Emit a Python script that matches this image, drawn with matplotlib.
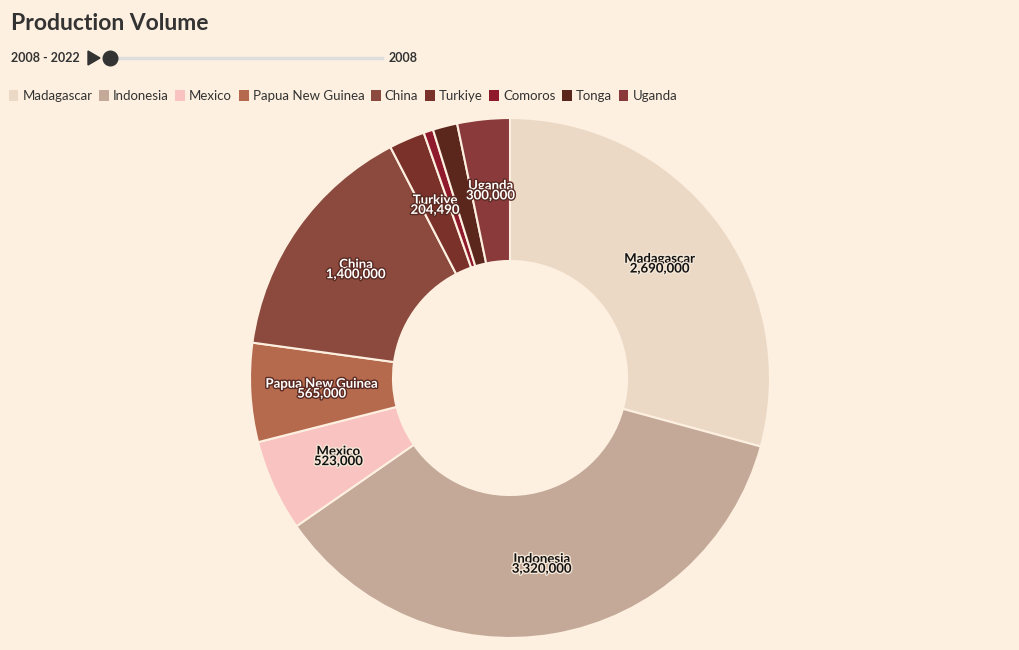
import numpy as np
import matplotlib
matplotlib.use("Agg")
import matplotlib.pyplot as plt
import matplotlib.patheffects as pe
from matplotlib.patches import FancyBboxPatch, Polygon
from matplotlib.lines import Line2D

countries = ["Madagascar", "Indonesia", "Mexico", "Papua New Guinea", "China",
             "Turkiye", "Comoros", "Tonga", "Uganda"]
volumes = [2690000, 3320000, 523000, 565000, 1400000, 204490, 55000, 140000, 300000]
colors = ["#ecd9c5", "#c4a998", "#f8c3c0", "#b56a4e", "#8b4a3d",
          "#7a3129", "#8e1a2b", "#5b261b", "#8b3a3b"]
dark_text = ["Madagascar", "Indonesia", "Mexico"]
hide_label = ["Comoros", "Tonga"]

bg = "#fdf0e0"
plt.rcParams['font.family'] = ['Lato', 'DejaVu Sans']

fig = plt.figure(figsize=(10.2, 6.5), dpi=100, facecolor=bg)

# title + slider
fig.text(11/1020, 1 - 24/650, "Production Volume", fontsize=16.5, fontweight="bold",
         color="#333333", va="center")
fig.text(11/1020, 1 - 58/650, "2008 - 2022", fontsize=9, fontweight="bold",
         color="#333333", va="center")
fig.text(389/1020, 1 - 58/650, "2008", fontsize=9, fontweight="bold",
         color="#333333", va="center")
fig.add_artist(Line2D([110/1020, 382/1020], [1 - 58/650, 1 - 58/650],
                      color="#dddddd", lw=2.5, transform=fig.transFigure))
fig.add_artist(Polygon([[88/1020, 1 - 51/650], [88/1020, 1 - 65/650], [100/1020, 1 - 58/650]],
                       closed=True, color="#333333", transform=fig.transFigure))
fig.add_artist(Line2D([110/1020], [1 - 58/650], marker="o", markersize=10.5,
                      color="#333333", transform=fig.transFigure))

# legend
handles = [FancyBboxPatch((0, 0), 1, 1, facecolor=c, edgecolor="none") for c in colors]
fig.legend(handles, countries, loc="upper left", bbox_to_anchor=(2/1020, 1 - 83/650),
           ncol=9, frameon=False, fontsize=9.5, handlelength=0.75, handleheight=1.0,
           handletextpad=0.3, columnspacing=0.5, borderpad=0,
           labelcolor="#333333")

# donut
ax = fig.add_axes([250/1020, 12/650, 520/1020, 520/650])
ax.set_facecolor(bg)
wedges, _ = ax.pie(volumes, colors=colors, startangle=90, counterclock=False,
                   radius=1.0, wedgeprops=dict(width=0.55, edgecolor=bg, linewidth=1.5))
ax.set_xlim(-1, 1)
ax.set_ylim(-1, 1)
ax.set_aspect("equal")
ax.axis("off")

r_mid = 1 - 0.55 / 2
for w, name, val in zip(wedges, countries, volumes):
    if name in hide_label:
        continue
    ang = np.deg2rad((w.theta1 + w.theta2) / 2)
    x, y = r_mid * np.cos(ang), r_mid * np.sin(ang)
    if name in dark_text:
        tc, sc = "#111111", "#f3e6d6"
    else:
        tc, sc = "white", "#5a2a22"
    ax.text(x, y, f"{name}\n{val:,}", ha="center", va="center", fontsize=9.5,
            fontweight="bold", color=tc, linespacing=0.78,
            path_effects=[pe.withStroke(linewidth=2, foreground=sc)])

fig.savefig("out.png", dpi=100, facecolor=bg)
